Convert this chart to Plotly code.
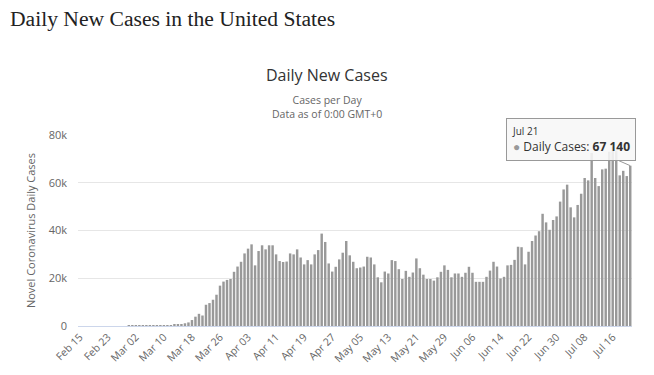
import plotly.graph_objects as go
import pandas as pd

# ---- data ----
feb = [0, 0, 0, 0, 0, 0, 1, 0, 0, 1, 0, 0, 1, 0, 6]  # Feb 15 - Feb 29
mar = [8, 23, 20, 31, 68, 45, 140, 116, 65, 376, 322, 382, 516, 548, 772, 1133,
       1500, 2500, 3900, 5100, 4400, 8900, 9600, 11000, 13100, 16900, 18600,
       19300, 19700, 22700, 24900]
apr = [26900, 30400, 32400, 34200, 25400, 31400, 33800, 32100, 33800, 33800,
       30000, 27200, 26800, 27000, 30400, 30000, 32100, 28700, 25800, 27600,
       25800, 30000, 31800, 38700, 35200, 26200, 22800, 24800, 27900, 30700]
may = [35600, 29600, 26900, 24200, 24500, 24900, 29000, 28700, 25800, 20400,
       18300, 22800, 22000, 27600, 27200, 23800, 19700, 23100, 20600, 22400,
       28300, 24200, 21500, 19700, 19700, 19000, 20400, 22700, 25400, 23500, 20400]
jun = [22000, 22000, 20600, 22300, 24800, 22300, 18500, 18500, 18500, 20600,
       23200, 26900, 24900, 19900, 20600, 25400, 25600, 27700, 33200, 33000,
       25800, 31100, 35600, 37900, 39700, 47000, 43400, 40300, 44400, 45900]
jul = [52100, 57200, 59200, 49700, 45500, 50700, 55400, 62000, 61000, 72500,
       62000, 58600, 65600, 65900, 73000, 75000, 73500, 63100, 65000, 62800, 67140]

daily_cases = feb + mar + apr + may + jun + jul
dates = pd.date_range("2020-02-15", "2020-07-21", freq="D")
assert len(dates) == len(daily_cases)

tick_dates = dates[::8]
tick_labels = [d.strftime("%b %d") for d in tick_dates]
y_ticks = [0, 20000, 40000, 60000, 80000]
y_tick_labels = ["0", "20k", "40k", "60k", "80k"]

# ---- layout geometry (page body adds an 8px offset) ----
OFF = 8
W, H = 654 - OFF, 375 - OFF
L, R, T, B = 78 - OFF, 22, 135 - OFF, 49
PW, PH = W - L - R, H - T - B


def px(xp):  # reference-screenshot pixel -> paper x
    return (xp - OFF - L) / PW


def py(yp):  # reference-screenshot pixel -> paper y
    return (H - B - (yp - OFF)) / PH


FONT = "Open Sans"

fig = go.Figure()
fig.add_trace(go.Bar(
    x=dates, y=daily_cases,
    marker=dict(color="#999999", line=dict(width=0)),
    name="Daily Cases",
    hoverinfo="skip",
))

annotations = [
    dict(text="Daily New Cases in the United States", x=px(8), y=py(19),
         xanchor="left", yanchor="middle",
         font=dict(family="Liberation Serif", size=21.6, color="#222222")),
    dict(text="Daily New Cases", x=px(327), y=py(75),
         xanchor="center", yanchor="middle",
         font=dict(family=FONT, size=16, color="#333333")),
    dict(text="Cases per Day<br>Data as of 0:00 GMT+0", x=px(327), y=py(107.5),
         xanchor="center", yanchor="middle", align="center",
         font=dict(family=FONT, size=10.5, color="#666666")),
    dict(text="<span style='font-size:10px'>Jul 21</span><br>"
              "<span style='color:#999999'>●</span> Daily Cases: <b>67 140</b>",
         x=dates[-1], y=daily_cases[-1], xref="x", yref="y",
         showarrow=True, arrowhead=0, arrowwidth=1, arrowcolor="#999999",
         ax=-59, ay=-26, standoff=0,
         align="left", bgcolor="rgba(247,247,247,0.88)",
         bordercolor="#999999", borderwidth=1, borderpad=5,
         font=dict(family=FONT, size=12, color="#333333")),
]
for a in annotations:
    a.setdefault("xref", "paper")
    a.setdefault("yref", "paper")
    a.setdefault("showarrow", False)

fig.update_layout(
    width=W, height=H,
    margin=dict(l=L, r=R, t=T, b=B, autoexpand=False),
    paper_bgcolor="white", plot_bgcolor="white",
    bargap=0.3, showlegend=False, hovermode=False,
    font=dict(family=FONT, size=11, color="#666666"),
    annotations=annotations,
    xaxis=dict(
        type="date",
        range=[dates[0] - pd.Timedelta(hours=12), dates[-1] + pd.Timedelta(hours=12)],
        tickvals=tick_dates, ticktext=tick_labels, tickangle=-45,
        tickfont=dict(family=FONT, size=10.5, color="#666666"),
        showgrid=False, showline=True, linecolor="#ccd6eb", linewidth=1,
        ticks="", automargin=False, zeroline=False,
    ),
    yaxis=dict(
        range=[0, 80000], tickvals=y_ticks, ticktext=y_tick_labels,
        tickfont=dict(family=FONT, size=11, color="#666666"),
        showgrid=True, gridcolor="#e6e6e6", gridwidth=1,
        zeroline=False, showline=False, ticks="",
        ticklabelstandoff=10,
        title=dict(text="Novel Coronavirus Daily Cases", standoff=10,
                   font=dict(family=FONT, size=11, color="#666666")),
        automargin=False,
    ),
)

fig.write_html("out.html")
